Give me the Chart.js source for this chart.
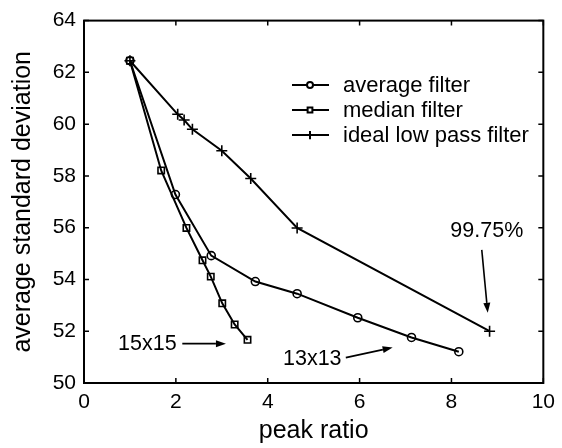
<!DOCTYPE html>
<html>
<head>
<meta charset="utf-8">
<script src="https://cdn.jsdelivr.net/npm/chart.js@4"></script>
<style>
html,body{margin:0;padding:0;background:#fff;}
#wrap{width:562px;height:448px;}
</style>
</head>
<body>
<div id="wrap"><canvas id="c" width="562" height="448"></canvas></div>
<script>
// Data
const averageX = [1.00, 1.99, 2.77, 3.73, 4.64, 5.96, 7.13, 8.16];
const averageY = [62.45, 57.28, 54.92, 53.92, 53.45, 52.52, 51.76, 51.21];
const medianX = [1.00, 1.68, 2.23, 2.58, 2.76, 3.01, 3.28, 3.56];
const medianY = [62.45, 58.21, 55.99, 54.74, 54.11, 53.08, 52.26, 51.67];
const idealX = [1.00, 2.04, 2.18, 2.36, 3.00, 3.63, 4.64, 8.83];
const idealY = [62.45, 60.38, 60.16, 59.80, 58.97, 57.90, 55.99, 52.00];
const seriesNames = ['average filter', 'median filter', 'ideal low pass filter'];
const xTicks = [0, 2, 4, 6, 8, 10];
const yTicks = [50, 52, 54, 56, 58, 60, 62, 64];
const annotationTexts = ['15x15', '13x13', '99.75%'];

const FONT = '"Liberation Sans", Arial, sans-serif';

function pts(xs, ys) { return xs.map((x, i) => ({x: x, y: ys[i]})); }

const datasets = [
  {label: seriesNames[0], data: pts(averageX, averageY), pointStyle: 'circle', pointRadius: 4},
  {label: seriesNames[1], data: pts(medianX, medianY), pointStyle: 'rect', pointRadius: 4.5},
  {label: seriesNames[2], data: pts(idealX, idealY), pointStyle: 'cross', pointRadius: 5.5}
].map(d => Object.assign(d, {
  showLine: true, borderColor: '#000', backgroundColor: 'rgba(255,255,255,0)',
  borderWidth: 2, pointBorderWidth: 1.6, pointBorderColor: '#000',
  pointBackgroundColor: 'rgba(255,255,255,0)', tension: 0
}));

// annotation anchors in data units
const annotations = [
  {text: annotationTexts[0], tx: 1.38, ty: 51.52, ax0: 2.14, ay0: 51.52, ax1: 3.09, ay1: 51.52},
  {text: annotationTexts[1], tx: 4.97, ty: 50.94, ax0: 5.70, ay0: 50.98, ax1: 6.72, ay1: 51.37},
  {text: annotationTexts[2], tx: 8.77, ty: 55.87, ax0: 8.66, ay0: 55.14, ax1: 8.79, ay1: 52.71}
];

const framePlugin = {
  id: 'frame',
  afterDatasetsDraw(chart) {
    const ctx = chart.ctx, a = chart.chartArea;
    const xs = chart.scales.x, ys = chart.scales.y;
    ctx.save();
    ctx.strokeStyle = '#000';
    ctx.lineWidth = 2;
    ctx.strokeRect(a.left, a.top, a.right - a.left, a.bottom - a.top);
    ctx.lineWidth = 1.5;
    const L = 5;
    ctx.beginPath();
    xTicks.forEach(v => {
      const p = xs.getPixelForValue(v);
      ctx.moveTo(p, a.bottom); ctx.lineTo(p, a.bottom - L);
      ctx.moveTo(p, a.top); ctx.lineTo(p, a.top + L);
    });
    yTicks.forEach(v => {
      const p = ys.getPixelForValue(v);
      ctx.moveTo(a.left, p); ctx.lineTo(a.left + L, p);
      ctx.moveTo(a.right, p); ctx.lineTo(a.right - L, p);
    });
    ctx.stroke();

    // legend
    ctx.font = '22px ' + FONT;
    ctx.textBaseline = 'middle';
    const lx0 = 292, lx1 = 329, lm = 310, tx = 343;
    const rows = [85, 110, 135];
    chart.data.datasets.forEach((d, i) => {
      const y = rows[i];
      ctx.lineWidth = 2;
      ctx.beginPath(); ctx.moveTo(lx0, y); ctx.lineTo(lx1, y); ctx.stroke();
      ctx.fillStyle = '#fff';
      Chart.helpers.drawPoint(ctx, {pointStyle: d.pointStyle, radius: d.pointRadius * 0.75, borderWidth: 1.6, rotation: 0}, lm, y);
      ctx.fillStyle = '#000';
      ctx.fillText(d.label, tx, y + 1);
    });

    // annotations
    ctx.textAlign = 'center';
    ctx.font = '21.5px ' + FONT;
    annotations.forEach(an => {
      ctx.fillText(an.text, xs.getPixelForValue(an.tx), ys.getPixelForValue(an.ty));
      const x0 = xs.getPixelForValue(an.ax0), y0 = ys.getPixelForValue(an.ay0);
      const x1 = xs.getPixelForValue(an.ax1), y1 = ys.getPixelForValue(an.ay1);
      const ang = Math.atan2(y1 - y0, x1 - x0);
      const hl = 10, hw = 3.5;
      const bx = x1 - hl * Math.cos(ang), by = y1 - hl * Math.sin(ang);
      ctx.lineWidth = 1.6;
      ctx.beginPath(); ctx.moveTo(x0, y0); ctx.lineTo(bx, by); ctx.stroke();
      ctx.beginPath();
      ctx.moveTo(x1, y1);
      ctx.lineTo(bx + hw * Math.sin(ang), by - hw * Math.cos(ang));
      ctx.lineTo(bx - hw * Math.sin(ang), by + hw * Math.cos(ang));
      ctx.closePath(); ctx.fill();
    });
    ctx.restore();
  }
};

new Chart(document.getElementById('c'), {
  type: 'scatter',
  data: {datasets: datasets},
  options: {
    responsive: false, animation: false, devicePixelRatio: 1,
    layout: {padding: {top: 18, right: 15, left: 0, bottom: 0}},
    plugins: {legend: {display: false}, tooltip: {enabled: false}},
    scales: {
      x: {
        type: 'linear', min: 0, max: 10,
        afterBuildTicks: s => { s.ticks = xTicks.map(v => ({value: v})); },
        afterFit: s => { s.height = 65; },
        grid: {display: false, drawTicks: false}, border: {display: false},
        ticks: {color: '#000', font: {family: FONT, size: 21}, padding: 7, maxRotation: 0},
        title: {display: true, text: 'peak ratio', color: '#000', font: {family: FONT, size: 25}, padding: {top: 0, bottom: 2}}
      },
      y: {
        type: 'linear', min: 50, max: 64,
        afterBuildTicks: s => { s.ticks = yTicks.map(v => ({value: v})); },
        afterFit: s => { s.width = 84; },
        grid: {display: false, drawTicks: false}, border: {display: false},
        ticks: {color: '#000', font: {family: FONT, size: 21}, padding: 8},
        title: {display: true, text: 'average standard deviation', color: '#000', font: {family: FONT, size: 25}, padding: {top: 8, bottom: 0}}
      }
    }
  },
  plugins: [framePlugin]
});
</script>
</body>
</html>
